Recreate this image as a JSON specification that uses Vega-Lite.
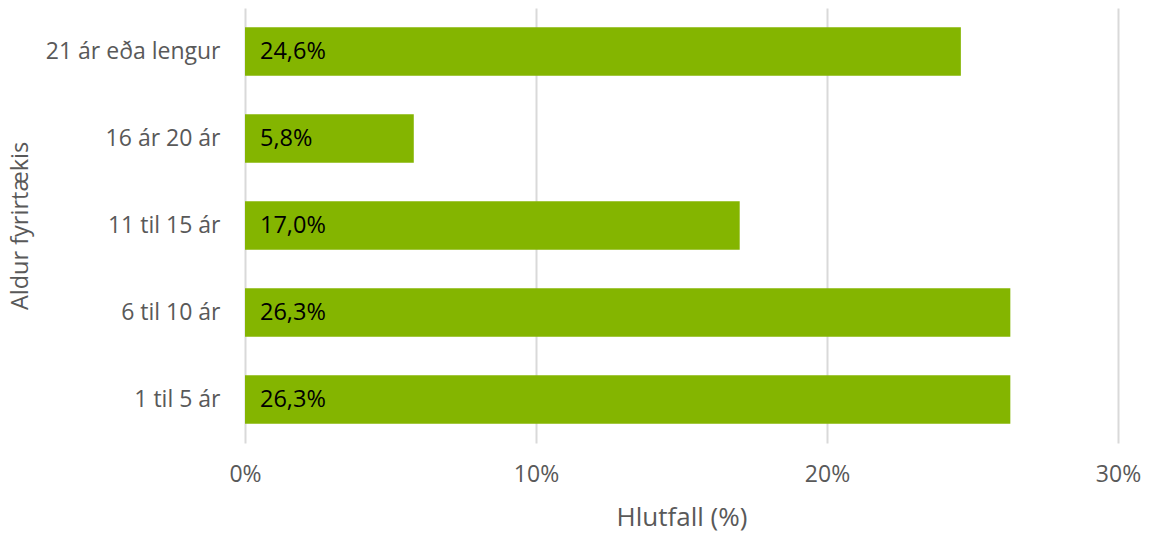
{
  "$schema": "https://vega.github.io/schema/vega-lite/v6.json",
  "autosize": "none",
  "width": 873,
  "height": 435,
  "padding": {"left": 245, "top": 8, "right": 33, "bottom": 94},
  "config": {
    "view": {"stroke": null},
    "font": "Open Sans",
    "locale": {"number": {"decimal": ",", "thousands": ".", "grouping": [3], "currency": ["", " kr"]}}
  },
  "data": {
    "values": [
      {"aldur": "21 ár eða lengur", "hlutfall": 0.246},
      {"aldur": "16 ár 20 ár", "hlutfall": 0.058},
      {"aldur": "11 til 15 ár", "hlutfall": 0.170},
      {"aldur": "6 til 10 ár", "hlutfall": 0.263},
      {"aldur": "1 til 5 ár", "hlutfall": 0.263}
    ]
  },
  "encoding": {
    "y": {
      "field": "aldur",
      "type": "nominal",
      "sort": null,
      "scale": {"paddingInner": 0.44, "paddingOuter": 0.22},
      "axis": {
        "title": "Aldur fyrirtækis",
        "titleFont": "Open Sans",
        "titleFontSize": 23.5,
        "titleFontWeight": "normal",
        "titleColor": "#595959",
        "titlePadding": 13,
        "labelFont": "Open Sans",
        "labelFontSize": 23,
        "labelColor": "#595959",
        "labelPadding": 25,
        "ticks": false,
        "domain": false
      }
    },
    "x": {
      "field": "hlutfall",
      "type": "quantitative",
      "scale": {"domain": [0, 0.3], "nice": false},
      "axis": {
        "title": "Hlutfall (%)",
        "titleFont": "Open Sans",
        "titleFontSize": 26,
        "titleFontWeight": "normal",
        "titleColor": "#595959",
        "titlePadding": 18,
        "format": ".0%",
        "values": [0, 0.1, 0.2, 0.3],
        "labelFont": "Open Sans",
        "labelFontSize": 23,
        "labelColor": "#595959",
        "labelPadding": 20,
        "labelFlush": false,
        "ticks": false,
        "domain": false,
        "grid": true,
        "gridColor": "#d9d9d9",
        "gridWidth": 2
      }
    }
  },
  "layer": [
    {"mark": {"type": "bar", "color": "#84b500"}},
    {
      "mark": {"type": "text", "align": "left", "baseline": "middle", "dx": 15, "fontSize": 23.5, "color": "#000000", "font": "Open Sans"},
      "encoding": {
        "x": {"datum": 0},
        "text": {"field": "hlutfall", "type": "quantitative", "format": ".1%"}
      }
    }
  ]
}
